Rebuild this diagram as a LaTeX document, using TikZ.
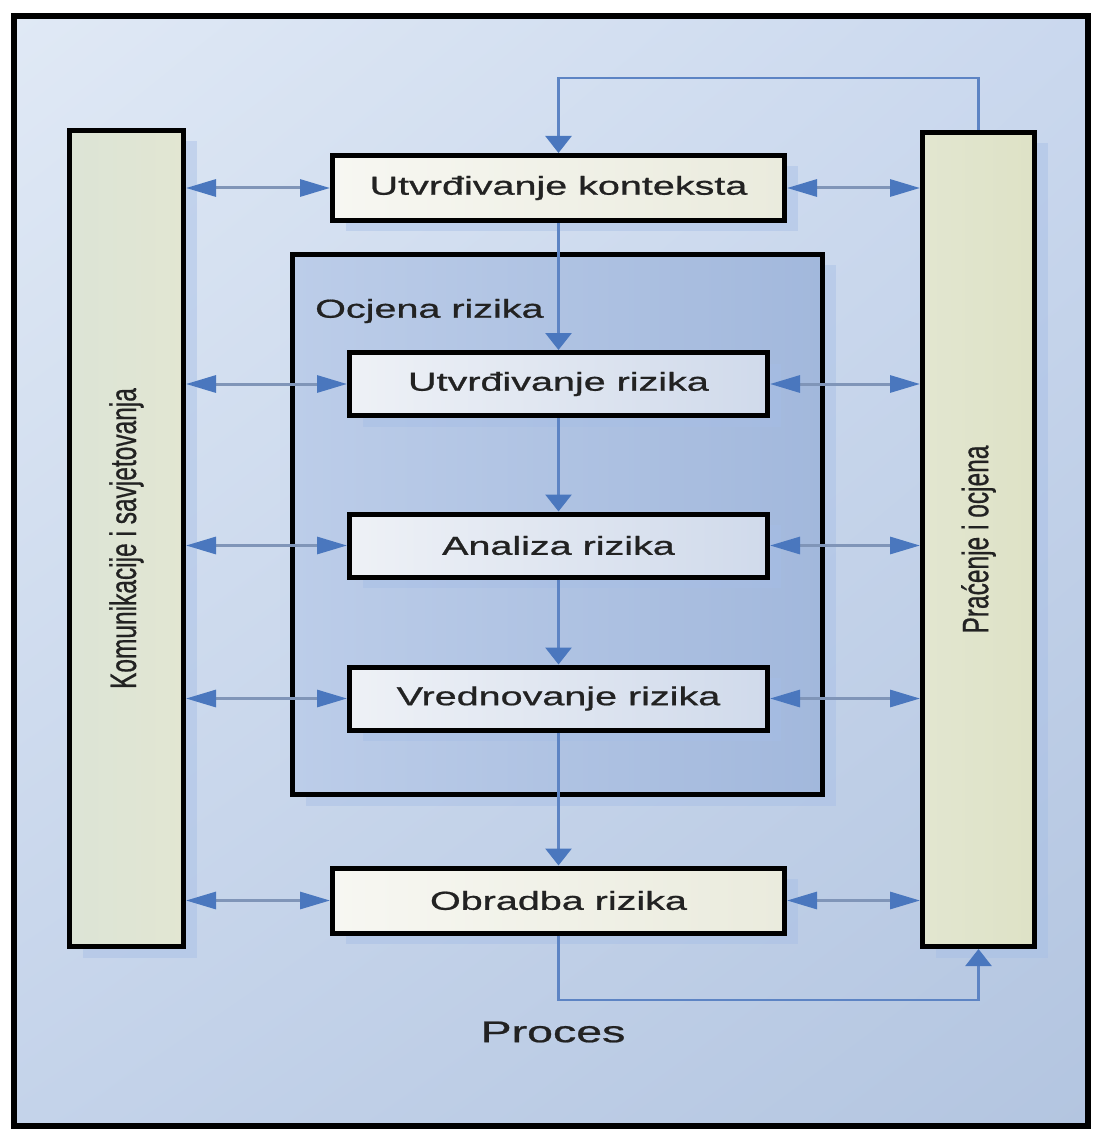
\documentclass[tikz,border=0pt]{standalone}
\usepackage{fontspec}
\setmainfont{Liberation Sans}
\newfontfamily\lblface[FakeBold=0.7]{Liberation Sans}
\usetikzlibrary{arrows.meta,shadows,shadings}
\definecolor{bgUL}{HTML}{E0E9F5}
\definecolor{bgUR}{HTML}{CAD8EE}
\definecolor{bgLL}{HTML}{C4D3EA}
\definecolor{bgLR}{HTML}{B3C5E0}
\definecolor{innerL}{HTML}{BCCDE9}
\definecolor{innerR}{HTML}{A2B8DC}
\definecolor{stepL}{HTML}{EEF1F6}
\definecolor{stepR}{HTML}{D0DAEB}
\definecolor{endL}{HTML}{F7F7F2}
\definecolor{endR}{HTML}{EAEBDD}
\definecolor{commL}{HTML}{DCE4D6}
\definecolor{commR}{HTML}{E2E6D2}
\definecolor{monL}{HTML}{E2E6D0}
\definecolor{monR}{HTML}{DEE2C6}
\definecolor{shadowblue}{HTML}{A6BEE6}
\definecolor{arrowblue}{HTML}{4A77BE}
\definecolor{lineblue}{HTML}{5D84C4}
\definecolor{linegray}{HTML}{8095B8}
\definecolor{textgray}{HTML}{222222}
\newcommand{\hstr}[2]{\scalebox{#1}[1]{#2}}
\tikzset{
  HT/.tip={Triangle[length=30pt,width=17pt,color=arrowblue]},
  VT/.tip={Triangle[length=17pt,width=26pt,color=arrowblue]}
}
\begin{document}
\begin{tikzpicture}[x=1pt,y=-1pt,
  box/.style={draw=black, line width=5pt, inner sep=0pt,
    drop shadow={shadow xshift=13pt, shadow yshift=-11pt, fill=shadowblue, opacity=0.45}},
  lblfont/.style={font=\lblface\fontsize{26}{30}\selectfont, text=textgray},
  stepbox/.style={box, lblfont, left color=stepL, right color=stepR,
    minimum width=418pt, minimum height=63pt},
  endbox/.style={box, lblfont, left color=endL, right color=endR,
    minimum width=452pt, minimum height=65pt},
  sidebox/.style={box, font=\lblface\fontsize{24.5}{28}\selectfont, text=textgray},
  dconn/.style={draw=linegray, line width=3pt, HT-HT},
  vconn/.style={draw=lineblue, line width=3pt, -VT},
  fb/.style={draw=lineblue, line width=2.5pt, -VT}
]
\useasboundingbox (0,0) rectangle (1094,1131);
\fill[white] (0,0) rectangle (1094,1131);
\shade[upper left=bgUL, upper right=bgUR, lower left=bgLL, lower right=bgLR]
  (13.5,16) rectangle (1088,1126);
\draw[line width=6pt] (13.5,16) rectangle (1088,1126);

% side boxes
\node[sidebox, left color=commL, right color=commR, minimum width=114pt, minimum height=816pt]
  (komm) at (126.5,538.5) {\rotatebox{90}{\scalebox{1}[1.5]{Komunikacije i savjetovanja}}};
\node[sidebox, left color=monL, right color=monR, minimum width=112pt, minimum height=814pt]
  (prac) at (978.5,539.5) {\rotatebox{90}{\scalebox{1}[1.5]{Praćenje i ocjena}}};

% risk assessment container
\node[box, left color=innerL, right color=innerR, minimum width=530pt, minimum height=540pt]
  (ocj) at (557.5,524.5) {};
\node[lblfont, anchor=west, inner sep=0pt] (ocjlbl) at (315,311) {\hstr{1.52}{Ocjena rizika}};

% process boxes
\node[endbox] (kont) at (558.5,188) {\hstr{1.52}{Utvrđivanje konteksta}};
\node[stepbox] (utv) at (558.5,384) {\hstr{1.52}{Utvrđivanje rizika}};
\node[stepbox] (anl) at (558.5,545.5) {\hstr{1.52}{Analiza rizika}};
\node[stepbox] (vred) at (558.5,698.5) {\hstr{1.52}{Vrednovanje rizika}};
\node[endbox] (obr) at (558.5,900.5) {\hstr{1.52}{Obradba rizika}};

\node[font=\lblface\fontsize{30}{34}\selectfont, text=textgray] (proc) at (553,1032) {\hstr{1.55}{Proces}};

% vertical flow
\draw[vconn] (kont.south) -- (utv.north);
\draw[vconn] (utv.south) -- (anl.north);
\draw[vconn] (anl.south) -- (vred.north);
\draw[vconn] (vred.south) -- (obr.north);

% horizontal double arrows
\foreach \n in {kont,utv,anl,vred,obr}{
  \draw[dconn] (komm.east |- \n) -- (\n.west);
  \draw[dconn] (\n.east) -- (prac.west |- \n);
}

% feedback loops
\coordinate (fbtop) at (978.5,78);
\coordinate (fbbot) at (558.5,1000);
\draw[fb] (prac.north) -- (prac.north |- fbtop) -| (kont.north);
\draw[fb] (obr.south) -- (fbbot) -| (prac.south);
\end{tikzpicture}
\end{document}
